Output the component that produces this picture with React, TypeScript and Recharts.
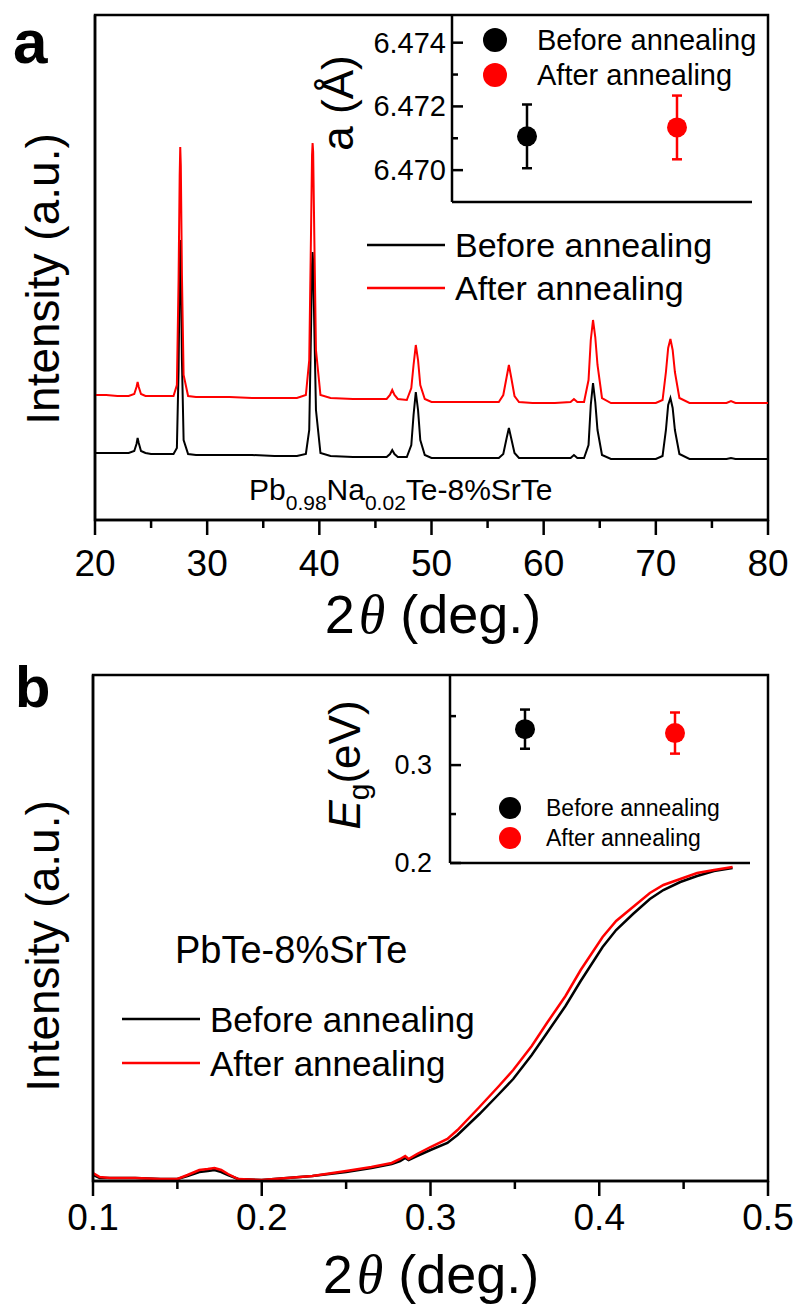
import React from "react";
import {
  ErrorBar,
  Legend,
  Line,
  LineChart,
  ReferenceArea,
  Scatter,
  ScatterChart,
  XAxis,
  YAxis,
} from "recharts";

const FONT = "'Liberation Sans', Arial, Helvetica, sans-serif";
const BLACK = "#000000";
const RED = "#ff0000";

// samples
const sampleNames = ["Before annealing", "After annealing"];
const sampleColors = [BLACK, RED];
const samplePos = [1, 3];

// (a) XRD patterns, intensity in a.u.
const xrdTwoTheta = [
  20, 21, 22, 23, 23.5, 23.7, 23.8, 23.9, 24.1, 24.5,
  25, 26, 27, 27.3, 27.45, 27.55, 27.6, 27.65, 27.75, 27.9,
  28.3, 29, 30, 32, 34, 36, 38, 38.8, 39.1, 39.25,
  39.35, 39.4, 39.45, 39.55, 39.7, 40.1, 41, 43, 45, 46,
  46.3, 46.5, 46.7, 47, 47.8, 48.2, 48.4, 48.6, 48.8, 49.0,
  49.4, 50, 52, 54, 56, 56.4, 56.7, 56.9, 57.1, 57.4,
  57.8, 59, 61, 62.4, 62.7, 63.0, 63.6, 64.0, 64.2, 64.4,
  64.6, 64.8, 65.2, 66, 68, 70, 70.6, 70.9, 71.1, 71.3,
  71.5, 71.7, 72.1, 73, 75, 76.3, 76.7, 77.1, 78, 80,
];
const xrdBefore = [
  67, 67, 67, 67, 69, 76, 82, 77, 69, 67,
  66, 66, 66, 72, 150, 250, 280, 262, 160, 80,
  66, 65, 65, 65, 65, 64, 64, 66, 90, 185,
  255, 268, 258, 195, 110, 67, 64, 63, 63, 63,
  66, 70, 66, 63, 63, 75, 105, 128, 110, 80,
  65, 62, 62, 62, 62, 66, 82, 92, 82, 67,
  62, 62, 62, 62, 65, 62, 62, 75, 115, 137,
  118, 90, 65, 61, 61, 61, 64, 90, 115, 122,
  112, 90, 66, 61, 61, 61, 62, 61, 61, 61,
];
const xrdAfter = [
  125, 125, 124, 124, 126, 133, 138, 133, 126, 124,
  124, 124, 124, 135, 240, 345, 373, 355, 245, 145,
  124, 123, 123, 123, 122, 122, 122, 125, 160, 280,
  365, 377, 368, 285, 170, 125, 122, 121, 121, 121,
  125, 130, 125, 121, 120, 132, 155, 175, 160, 135,
  121, 118, 118, 118, 118, 125, 143, 155, 143, 124,
  118, 117, 117, 118, 121, 118, 118, 140, 180, 200,
  183, 155, 122, 117, 117, 117, 120, 148, 172, 181,
  170, 148, 122, 117, 117, 117, 119, 117, 117, 117,
];
const xrdTicks = [20, 25, 30, 35, 40, 45, 50, 55, 60, 65, 70, 75, 80];
const xrdTickLabels = ["20", "30", "40", "50", "60", "70", "80"];

// (a) inset: lattice parameter a (Å)
const latticeA = [6.47106, 6.47134];
const latticeErr = [0.001, 0.001];
const latticeTicks = [6.47, 6.471, 6.472, 6.473, 6.474];
const latticeTickLabels = ["6.470", "6.472", "6.474"];

// (b) absorption spectra
const absX = [
  0.1, 0.104, 0.11, 0.125, 0.14, 0.15, 0.156, 0.163, 0.168, 0.172,
  0.176, 0.18, 0.186, 0.2, 0.215, 0.23, 0.25, 0.265, 0.277, 0.282,
  0.285, 0.287, 0.292, 0.3, 0.31, 0.316, 0.329, 0.34, 0.349, 0.36,
  0.369, 0.38, 0.389, 0.402, 0.41, 0.42, 0.43, 0.438, 0.448, 0.458,
  0.468, 0.479,
];
const absBefore = [
  6, 3, 3, 3, 2, 2, 5, 9, 10, 11,
  9, 6, 2, 1, 3, 5, 9, 13, 17, 20,
  23, 21, 25, 31, 38, 46, 67, 86, 102, 126,
  148, 175, 200, 234, 251, 267, 282, 291, 299, 305,
  310, 313,
];
const absAfter = [
  8, 4, 3, 3, 2, 2, 6, 11, 12, 13,
  11, 7, 2, 1, 3, 5, 10, 14, 18, 22,
  25, 22, 27, 34, 42, 51, 74, 94, 111, 135,
  158, 185, 211, 244, 260, 274, 288, 296, 302, 308,
  311, 314,
];
const absTicks = [0.1, 0.15, 0.2, 0.25, 0.3, 0.35, 0.4, 0.45, 0.5];
const absTickLabels = ["0.1", "0.2", "0.3", "0.4", "0.5"];

// (b) inset: band gap
const bandGap = [0.3367, 0.3327];
const bandGapErr = [0.02, 0.021];
const gapTicks = [0.2, 0.25, 0.3, 0.35];
const gapTickLabels = ["0.2", "0.3"];

const xrdData = xrdTwoTheta.map((t, i) => ({ t, before: xrdBefore[i], after: xrdAfter[i] }));
const absData = absX.map((t, i) => ({ t, before: absBefore[i], after: absAfter[i] }));
const latticeData = samplePos.map((x, i) => [{ x, y: latticeA[i], err: latticeErr[i] }]);
const gapData = samplePos.map((x, i) => [{ x, y: bandGap[i], err: bandGapErr[i] }]);

const axisStyle = { stroke: BLACK, strokeWidth: 2.5 };

function bottomTick(labels: string[], labelDy: number) {
  return (props: any) => {
    const { x, y, payload } = props;
    const s = String(payload.value);
    const major = labels.includes(s);
    return (
      <g>
        <line x1={x} y1={y} x2={x} y2={y + (major ? 15 : 8)} stroke={BLACK} strokeWidth={2.5} />
        {major && (
          <text x={x} y={y + labelDy} textAnchor="middle" fontFamily={FONT} fontSize={37} fill={BLACK}>
            {s}
          </text>
        )}
      </g>
    );
  };
}

function insetTick(labels: string[], fmt: (v: number) => string, gap: number, fontSize: number) {
  return (props: any) => {
    const { x, y, payload } = props;
    const s = fmt(payload.value);
    const major = labels.includes(s);
    return (
      <g>
        <line x1={x} y1={y} x2={x + (major ? 11 : 6)} y2={y} stroke={BLACK} strokeWidth={2.5} />
        {major && (
          <text x={x - gap} y={y} textAnchor="end" dominantBaseline="central" fontFamily={FONT} fontSize={fontSize} fill={BLACK}>
            {s}
          </text>
        )}
      </g>
    );
  };
}

// keep legend rows in the sample order
function ordered(payload: any[]) {
  return [...(payload || [])].sort((a, b) => sampleNames.indexOf(a.value) - sampleNames.indexOf(b.value));
}

function lineLegend(fontSize: number, rowGap: number) {
  return (props: any) => {
    const items = ordered(props.payload);
    return (
      <svg width={420} height={rowGap * items.length + 20} style={{ overflow: "visible", display: "block" }}>
        {items.map((it: any, i: number) => {
          const cy = 20 + i * rowGap;
          return (
            <g key={i}>
              <line x1={0} x2={78} y1={cy} y2={cy} stroke={it.color} strokeWidth={2.5} />
              <text x={88} y={cy} dominantBaseline="central" fontFamily={FONT} fontSize={fontSize} fill={BLACK}>
                {it.value}
              </text>
            </g>
          );
        })}
      </svg>
    );
  };
}

function dotLegend(fontSize: number, rowGap: number, r: number, textX: number) {
  return (props: any) => {
    const items = ordered(props.payload);
    return (
      <svg width={320} height={rowGap * items.length + 10} style={{ overflow: "visible", display: "block" }}>
        {items.map((it: any, i: number) => {
          const cy = r + 4 + i * rowGap;
          return (
            <g key={i}>
              <circle cx={r} cy={cy} r={r} fill={sampleColors[sampleNames.indexOf(it.value)]} />
              <text x={textX} y={cy} dominantBaseline="central" fontFamily={FONT} fontSize={fontSize} fill={BLACK}>
                {it.value}
              </text>
            </g>
          );
        })}
      </svg>
    );
  };
}

function dot(color: string) {
  return (p: any) => <circle cx={p.cx} cy={p.cy} r={10} fill={color} />;
}

export default function App() {
  return (
    <div style={{ position: "absolute", left: 0, top: 0, width: 795, height: 1307, background: "#fff" }}>
      {/* panel a */}
      <div style={{ position: "absolute", left: 0, top: 0 }}>
        <LineChart width={795} height={660} data={xrdData} margin={{ top: 15, right: 27, bottom: 40, left: 35 }}>
          <XAxis
            type="number"
            dataKey="t"
            domain={[20, 80]}
            ticks={xrdTicks}
            interval={0}
            tickSize={0}
            tickMargin={0}
            tickLine={false}
            tick={bottomTick(xrdTickLabels, 56)}
            height={100}
            axisLine={axisStyle}
            allowDataOverflow
          />
          <YAxis type="number" domain={[0, 505]} tick={false} tickLine={false} width={60} axisLine={axisStyle} allowDataOverflow />
          <ReferenceArea x1={20} x2={80} y1={0} y2={505} fill="none" stroke={BLACK} strokeWidth={2.5} ifOverflow="visible" />
          <Line type="linear" dataKey="before" name={sampleNames[0]} stroke={BLACK} strokeWidth={2} dot={false} isAnimationActive={false} />
          <Line type="linear" dataKey="after" name={sampleNames[1]} stroke={RED} strokeWidth={2} dot={false} isAnimationActive={false} />
          <Legend
            layout="vertical"
            align="center"
            verticalAlign="middle"
            content={lineLegend(34, 43)}
            wrapperStyle={{ left: 367, top: 225, width: 420 }}
          />
        </LineChart>
      </div>

      {/* panel a inset */}
      <div style={{ position: "absolute", left: 360, top: 0 }}>
        <ScatterChart width={420} height={230} margin={{ top: 14, right: 28, bottom: 8, left: 12 }}>
          <XAxis type="number" dataKey="x" domain={[0, 4]} tick={false} tickLine={false} height={20} axisLine={axisStyle} />
          <YAxis
            type="number"
            dataKey="y"
            domain={[6.469, 6.4749]}
            ticks={latticeTicks}
            interval={0}
            tickSize={0}
            tickMargin={0}
            tickLine={false}
            tick={insetTick(latticeTickLabels, (v) => v.toFixed(3), 6, 29)}
            width={80}
            axisLine={axisStyle}
            allowDataOverflow
          />
          {latticeData.map((d, i) => (
            <Scatter key={i} name={sampleNames[i]} data={d} fill={sampleColors[i]} shape={dot(sampleColors[i])} isAnimationActive={false}>
              <ErrorBar dataKey="err" direction="y" width={5} stroke={sampleColors[i]} strokeWidth={2.5} />
            </Scatter>
          ))}
          <Legend
            layout="vertical"
            align="center"
            verticalAlign="middle"
            content={dotLegend(29, 35, 12, 54)}
            wrapperStyle={{ left: 123, top: 24, width: 300 }}
          />
        </ScatterChart>
      </div>

      {/* panel b */}
      <div style={{ position: "absolute", left: 0, top: 660 }}>
        <LineChart width={795} height={647} data={absData} margin={{ top: 15, right: 27, bottom: 26, left: 33 }}>
          <XAxis
            type="number"
            dataKey="t"
            domain={[0.1, 0.5]}
            ticks={absTicks}
            interval={0}
            tickSize={0}
            tickMargin={0}
            tickLine={false}
            tick={bottomTick(absTickLabels, 49)}
            height={100}
            axisLine={axisStyle}
            allowDataOverflow
          />
          <YAxis type="number" domain={[0, 506]} tick={false} tickLine={false} width={60} axisLine={axisStyle} allowDataOverflow />
          <ReferenceArea x1={0.1} x2={0.5} y1={0} y2={506} fill="none" stroke={BLACK} strokeWidth={2.5} ifOverflow="visible" />
          <Line type="linear" dataKey="before" name={sampleNames[0]} stroke={BLACK} strokeWidth={2.5} dot={false} isAnimationActive={false} />
          <Line type="linear" dataKey="after" name={sampleNames[1]} stroke={RED} strokeWidth={2.5} dot={false} isAnimationActive={false} />
          <Legend
            layout="vertical"
            align="center"
            verticalAlign="middle"
            content={lineLegend(35, 44)}
            wrapperStyle={{ left: 122, top: 339, width: 420 }}
          />
        </LineChart>
      </div>

      {/* panel b inset */}
      <div style={{ position: "absolute", left: 360, top: 660 }}>
        <ScatterChart width={420} height={240} margin={{ top: 15, right: 30, bottom: 17, left: 10 }}>
          <XAxis type="number" dataKey="x" domain={[0, 4]} tick={false} tickLine={false} height={20} axisLine={axisStyle} />
          <YAxis
            type="number"
            dataKey="y"
            domain={[0.2, 0.392]}
            ticks={gapTicks}
            interval={0}
            tickSize={0}
            tickMargin={0}
            tickLine={false}
            tick={insetTick(gapTickLabels, (v) => String(v), 18, 27)}
            width={80}
            axisLine={axisStyle}
            allowDataOverflow
          />
          {gapData.map((d, i) => (
            <Scatter key={i} name={sampleNames[i]} data={d} fill={sampleColors[i]} shape={dot(sampleColors[i])} isAnimationActive={false}>
              <ErrorBar dataKey="err" direction="y" width={5} stroke={sampleColors[i]} strokeWidth={2.5} />
            </Scatter>
          ))}
          <Legend
            layout="vertical"
            align="center"
            verticalAlign="middle"
            content={dotLegend(23, 30, 11, 47)}
            wrapperStyle={{ left: 139, top: 133, width: 300 }}
          />
        </ScatterChart>
      </div>

      {/* titles and notes */}
      <svg width={795} height={1307} style={{ position: "absolute", left: 0, top: 0, pointerEvents: "none" }}>
        <g fontFamily={FONT} fill={BLACK}>
          <text x={13} y={63} fontSize={62} fontWeight="bold">a</text>
          <text x={15} y={707} fontSize={58} fontWeight="bold">b</text>

          <text x={59} y={279} fontSize={46} textAnchor="middle" transform="rotate(-90 59 279)">Intensity (a.u.)</text>
          <text x={59} y={946} fontSize={46} textAnchor="middle" transform="rotate(-90 59 946)">Intensity (a.u.)</text>

          <text x={433} y={633} fontSize={54} textAnchor="middle">
            2<tspan dx={4} fontFamily="'Liberation Serif', 'Times New Roman', serif" fontStyle="italic">θ</tspan> (deg.)
          </text>
          <text x={431} y={1293} fontSize={54} textAnchor="middle">
            2<tspan dx={4} fontFamily="'Liberation Serif', 'Times New Roman', serif" fontStyle="italic">θ</tspan> (deg.)
          </text>

          <text x={353} y={103} fontSize={44} textAnchor="middle" transform="rotate(-90 353 103)">a (Å)</text>
          <text x={360} y={765} fontSize={44} textAnchor="middle" transform="rotate(-90 360 765)">
            <tspan fontStyle="italic">E</tspan>
            <tspan fontSize={30} dy={9}>g</tspan>
            <tspan dy={-9}>(eV)</tspan>
          </text>

          <text x={249} y={500} fontSize={30}>
            Pb<tspan fontSize={21} dy={10}>0.98</tspan>
            <tspan dy={-10}>Na</tspan>
            <tspan fontSize={21} dy={10}>0.02</tspan>
            <tspan dy={-10}>Te-8%SrTe</tspan>
          </text>
          <text x={175} y={963} fontSize={38}>PbTe-8%SrTe</text>
        </g>
      </svg>
    </div>
  );
}
